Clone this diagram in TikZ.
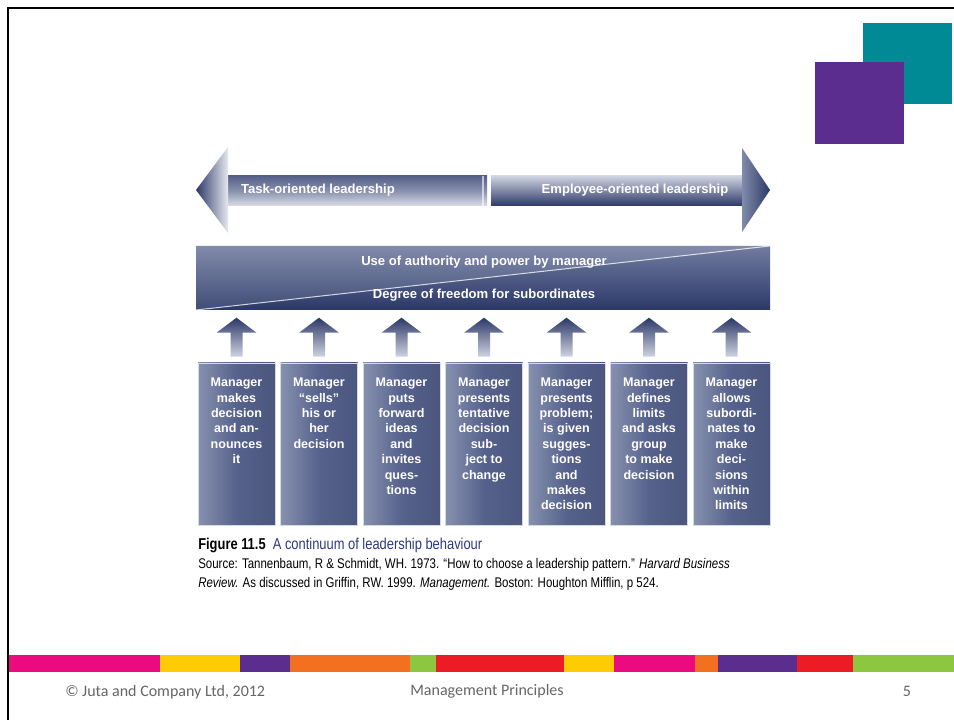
\documentclass[tikz,border=0pt]{standalone}
\usepackage{fontspec}
\setmainfont{Liberation Sans}
\newfontfamily\capfont[FakeStretch=0.82]{Liberation Sans}
\newfontfamily\footfont{Carlito}
\usepackage{xcolor}
\usepackage{tikz}
\usetikzlibrary{calc}

\definecolor{navy}{HTML}{2C3868}
\definecolor{midblue}{HTML}{56628C}
\definecolor{paleblue}{HTML}{C3C9D9}
\definecolor{capblue}{HTML}{2E3A7C}
\definecolor{footgray}{HTML}{666666}
\definecolor{jmagenta}{HTML}{EC0A80}
\definecolor{jyellow}{HTML}{FFCB05}
\definecolor{jpurple}{HTML}{5B2D8E}
\definecolor{jorange}{HTML}{F37021}
\definecolor{jgreen}{HTML}{8DC63F}
\definecolor{jred}{HTML}{ED1C24}
\definecolor{jteal}{HTML}{008A96}

\begin{document}
\begin{tikzpicture}[x=0.75pt, y=-0.75pt,
  mgrbox/.style={rectangle, minimum width=57.75pt, minimum height=121.5pt, inner sep=0pt,
    left color=midblue!55!paleblue, right color=navy!85!white, middle color=midblue, draw=paleblue!70, line width=0.4pt},
  mgrtext/.style={anchor=north, align=center, text=white, inner sep=0pt,
    font=\fontsize{9.4}{11.55}\selectfont\bfseries},
  uparrow/.style={top color=navy, bottom color=paleblue!80},
  bandtext/.style={text=white, inner sep=0pt, font=\fontsize{9.8}{12}\selectfont\bfseries},
  captext/.style={anchor=west, inner sep=0pt, font=\fontsize{10.5}{12}\capfont},
  foottext/.style={inner sep=0pt, text=footgray, font=\fontsize{12}{14}\footfont}]
  \useasboundingbox (0,0) rectangle (954,720);
  \fill[white] (0,0) rectangle (954,720);
  \draw[black, line width=1.5pt] (8,720) -- (8,8) -- (954,8);

  \fill[jteal] (863,23) rectangle (952,104);
  \fill[jpurple] (815,62) rectangle (904,144);

  \shade[top color=navy!80, bottom color=paleblue!60, middle color=midblue!70] (226,176) rectangle (487,206);
  \shade[left color=navy, right color=paleblue!40] (196,190) -- (228,147) -- (228,233) -- cycle;
  \shade[top color=paleblue!80, bottom color=navy] (491,176) rectangle (744,206);
  \shade[left color=midblue!60!paleblue, right color=navy] (742,148) -- (770,190) -- (742,232) -- cycle;
  \draw[white, line width=1pt, opacity=0.6] (483,176) -- (483,206);
  \node[bandtext, anchor=center] (task) at (318,190) {Task-oriented leadership};
  \node[bandtext, anchor=center] (employee) at (635,190) {Employee-oriented leadership};

  \shade[top color=midblue!60!paleblue, bottom color=navy!90] (196,246) -- (770,246) -- (196,310) -- cycle;
  \shade[top color=midblue!75!paleblue, bottom color=navy] (196,310) -- (770,246) -- (770,310) -- cycle;
  \draw[white, line width=0.8pt, opacity=0.7] (196,310) -- (770,246);
  \node[bandtext] (authority) at (484,262) {Use of authority and power by manager};
  \node[bandtext] (freedom) at (484,295) {Degree of freedom for subordinates};

  \node[mgrbox] (box1) at (236.5,444) {};
  \node[mgrbox] (box2) at (319,444) {};
  \node[mgrbox] (box3) at (401.5,444) {};
  \node[mgrbox] (box4) at (484,444) {};
  \node[mgrbox] (box5) at (566.5,444) {};
  \node[mgrbox] (box6) at (649,444) {};
  \node[mgrbox] (box7) at (731.5,444) {};

  \shade[uparrow, shift={(box1.north)}] (0,-45) -- (20,-30) -- (6,-30) -- (6,-6) -- (-6,-6) -- (-6,-30) -- (-20,-30) -- cycle;
  \shade[uparrow, shift={(box2.north)}] (0,-45) -- (20,-30) -- (6,-30) -- (6,-6) -- (-6,-6) -- (-6,-30) -- (-20,-30) -- cycle;
  \shade[uparrow, shift={(box3.north)}] (0,-45) -- (20,-30) -- (6,-30) -- (6,-6) -- (-6,-6) -- (-6,-30) -- (-20,-30) -- cycle;
  \shade[uparrow, shift={(box4.north)}] (0,-45) -- (20,-30) -- (6,-30) -- (6,-6) -- (-6,-6) -- (-6,-30) -- (-20,-30) -- cycle;
  \shade[uparrow, shift={(box5.north)}] (0,-45) -- (20,-30) -- (6,-30) -- (6,-6) -- (-6,-6) -- (-6,-30) -- (-20,-30) -- cycle;
  \shade[uparrow, shift={(box6.north)}] (0,-45) -- (20,-30) -- (6,-30) -- (6,-6) -- (-6,-6) -- (-6,-30) -- (-20,-30) -- cycle;
  \shade[uparrow, shift={(box7.north)}] (0,-45) -- (20,-30) -- (6,-30) -- (6,-6) -- (-6,-6) -- (-6,-30) -- (-20,-30) -- cycle;

  \node[mgrtext] (say1) at ($(box1.north)+(0,15)$) {Manager\\makes\\decision\\and an-\\nounces\\it};
  \node[mgrtext] (say2) at ($(box2.north)+(0,15)$) {Manager\\“sells”\\his or\\her\\decision};
  \node[mgrtext] (say3) at ($(box3.north)+(0,15)$) {Manager\\puts\\forward\\ideas\\and\\invites\\ques-\\tions};
  \node[mgrtext] (say4) at ($(box4.north)+(0,15)$) {Manager\\presents\\tentative\\decision\\sub-\\ject to\\change};
  \node[mgrtext] (say5) at ($(box5.north)+(0,15)$) {Manager\\presents\\problem;\\is given\\sugges-\\tions\\and\\makes\\decision};
  \node[mgrtext] (say6) at ($(box6.north)+(0,15)$) {Manager\\defines\\limits\\and asks\\group\\to make\\decision};
  \node[mgrtext] (say7) at ($(box7.north)+(0,15)$) {Manager\\allows\\subordi-\\nates to\\make\\deci-\\sions\\within\\limits};

  \node[captext, font=\fontsize{11.8}{13}\capfont] (fig) at (198,545) {\textbf{Figure 11.5}\ \ \textcolor{capblue}{A continuum of leadership behaviour}};
  \node[captext] (source) at (198,565) {Source: Tannenbaum, R \& Schmidt, WH. 1973. “How to choose a leadership pattern.” \textit{Harvard Business}};
  \node[captext] (review) at (198,584) {\textit{Review.} As discussed in Griffin, RW. 1999. \textit{Management.} Boston: Houghton Mifflin, p 524.};

  \fill[jmagenta] (9,655) rectangle (160,672);
  \fill[jyellow] (160,655) rectangle (240,672);
  \fill[jpurple] (240,655) rectangle (290,672);
  \fill[jorange] (290,655) rectangle (410,672);
  \fill[jgreen] (410,655) rectangle (436,672);
  \fill[jred] (436,655) rectangle (564,672);
  \fill[jyellow] (564,655) rectangle (614,672);
  \fill[jmagenta] (614,655) rectangle (695,672);
  \fill[jorange] (695,655) rectangle (718,672);
  \fill[jpurple] (718,655) rectangle (797,672);
  \fill[jred] (797,655) rectangle (853,672);
  \fill[jgreen] (853,655) rectangle (954,672);

  \node[foottext, anchor=west] (copy) at (65,692) {\textcopyright\ Juta and Company Ltd, 2012};
  \node[foottext] (course) at (487,691) {Management Principles};
  \node[foottext] (page) at (907,691) {5};
\end{tikzpicture}
\end{document}
